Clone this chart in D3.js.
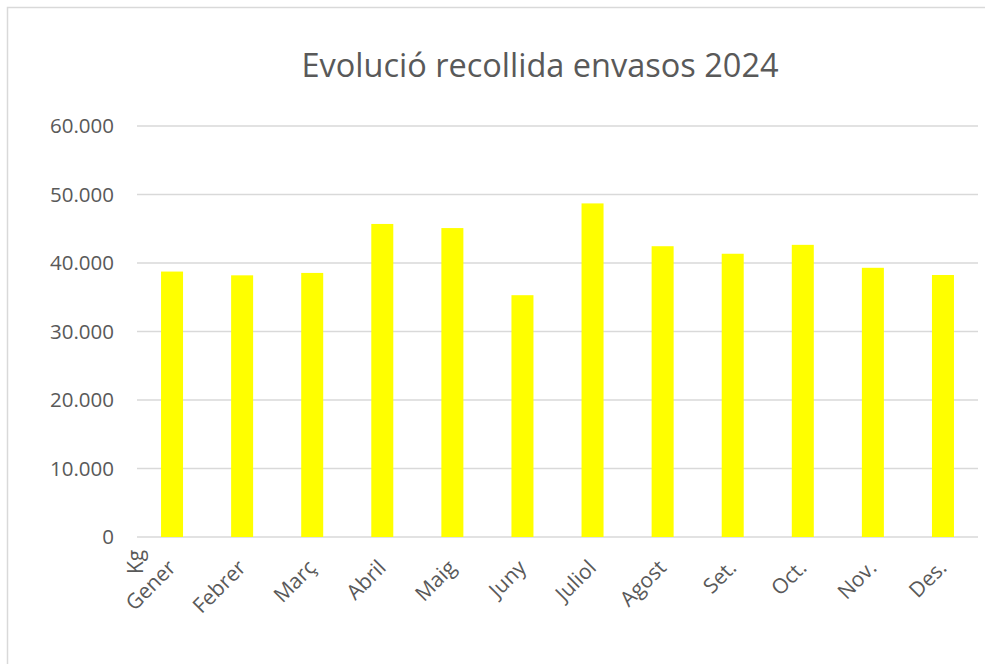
<!DOCTYPE html>
<html>
<head>
<meta charset="utf-8">
<script src="https://cdn.jsdelivr.net/npm/d3@7"></script>
<style>
  html, body { margin: 0; padding: 0; background: #fff; }
  svg { display: block; }
  text { font-family: "Open Sans", sans-serif; fill: #595959; }
</style>
</head>
<body>
<svg id="chart" width="985" height="664"></svg>
<script>
const title = "Evolució recollida envasos 2024";
const months = ["Gener", "Febrer", "Març", "Abril", "Maig", "Juny", "Juliol", "Agost", "Set.", "Oct.", "Nov.", "Des."];
const kg = [38750, 38200, 38550, 45700, 45100, 35300, 48700, 42450, 41350, 42650, 39300, 38250];
const yTicks = [0, 10000, 20000, 30000, 40000, 50000, 60000];
const yTickLabels = ["0", "10.000", "20.000", "30.000", "40.000", "50.000", "60.000"];
const axisTitle = "Kg";

const svg = d3.select("#chart");
const W = 985, H = 664;
const m = { left: 137, right: 7, top: 126, bottom: 127 };

// outer chart border (extends past right/bottom edges)
svg.append("rect")
  .attr("x", 7.5).attr("y", 7.5)
  .attr("width", W + 10).attr("height", H + 10)
  .attr("fill", "none").attr("stroke", "#d9d9d9").attr("stroke-width", 1.5);

const x = d3.scaleBand().domain(months).range([m.left, W - m.right]).paddingInner(0.686).paddingOuter(0.343);
const y = d3.scaleLinear().domain([0, 60000]).range([H - m.bottom, m.top]);

// gridlines
svg.append("g")
  .selectAll("line").data(yTicks).join("line")
  .attr("x1", m.left).attr("x2", W - m.right)
  .attr("y1", d => y(d)).attr("y2", d => y(d))
  .attr("stroke", "#d9d9d9").attr("stroke-width", 1.5);

// y axis labels
const yAxis = d3.axisLeft(y).tickValues(yTicks).tickSize(0).tickPadding(23)
  .tickFormat((d, i) => yTickLabels[i]);
const gy = svg.append("g").attr("transform", `translate(${m.left},0)`).call(yAxis);
gy.select(".domain").remove();
gy.selectAll("text").style("font-family", "'Open Sans', sans-serif").style("font-size", "20.5px").attr("fill", "#595959");

// bars
svg.append("g").selectAll("rect").data(kg).join("rect")
  .attr("x", (d, i) => x(months[i]))
  .attr("y", d => y(d))
  .attr("width", x.bandwidth())
  .attr("height", d => y(0) - y(d))
  .attr("fill", "#ffff00");

// x axis
const xAxis = d3.axisBottom(x).tickSize(0).tickPadding(0);
const gx = svg.append("g").attr("transform", `translate(0,${y(0)})`).call(xAxis);
gx.select(".domain").remove();
gx.selectAll("text")
  .style("font-family", "'Open Sans', sans-serif").style("font-size", "21px")
  .attr("fill", "#595959")
  .attr("text-anchor", "end")
  .attr("dy", null)
  .attr("y", 0)
  .attr("transform", "translate(5,32) rotate(-45)");

// axis title "Kg"
svg.append("text")
  .attr("transform", `translate(143,${y(0) + 37}) rotate(-90)`)
  .attr("text-anchor", "start")
  .style("font-size", "21px")
  .text(axisTitle);

// title
svg.append("text")
  .attr("x", 540).attr("y", 77)
  .attr("text-anchor", "middle")
  .style("font-size", "32.5px")
  .text(title);
</script>
</body>
</html>
